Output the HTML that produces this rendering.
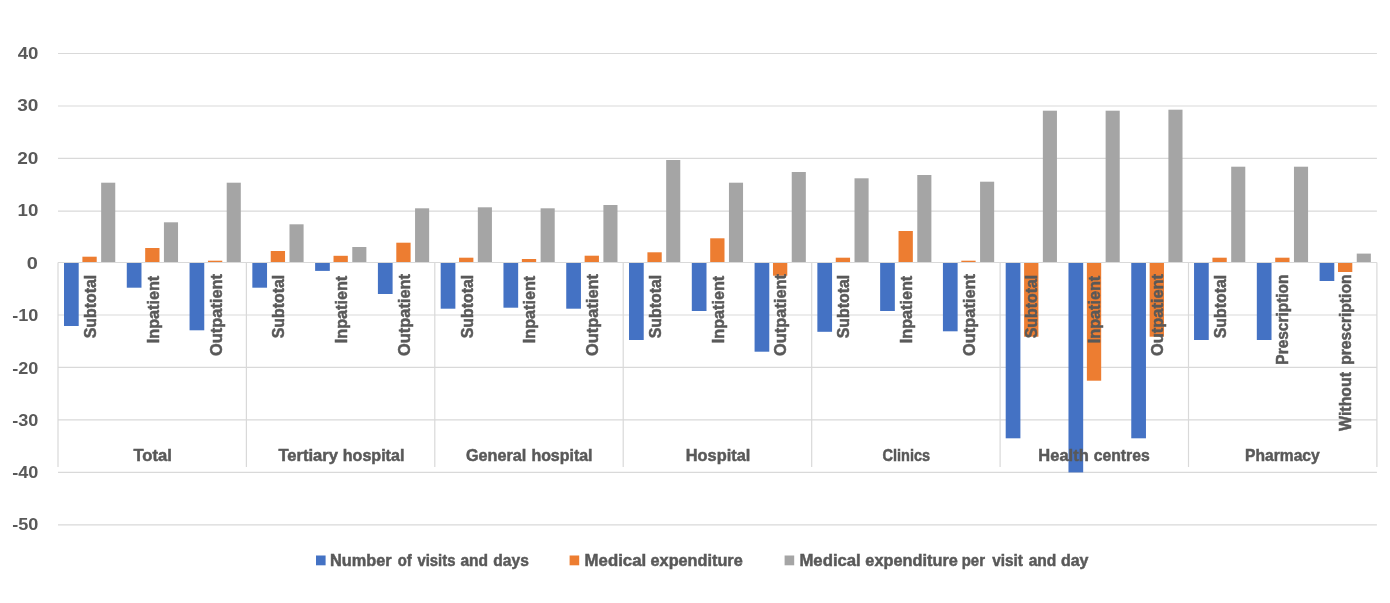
<!DOCTYPE html>
<html lang="en">
<head>
<meta charset="utf-8">
<title>Chart</title>
<style>
html,body{margin:0;padding:0;background:#fff;}
body{width:1390px;height:603px;overflow:hidden;}
svg{display:block;}
text{font-family:"Liberation Sans",sans-serif;font-weight:bold;font-size:16.5px;fill:#595959;stroke:#595959;stroke-width:0.5;}
text.ax{font-size:17px;stroke:none;}
</style>
</head>
<body>
<svg width="1390" height="603" viewBox="0 0 1390 603">
<rect width="1390" height="603" fill="#fff"/>
<g stroke="#D9D9D9" stroke-width="1.2" fill="none">
<line x1="58.0" y1="53.5" x2="1376.9" y2="53.5"/>
<line x1="58.0" y1="106.0" x2="1376.9" y2="106.0"/>
<line x1="58.0" y1="158.3" x2="1376.9" y2="158.3"/>
<line x1="58.0" y1="211.2" x2="1376.9" y2="211.2"/>
<line x1="58.0" y1="315.0" x2="1376.9" y2="315.0"/>
<line x1="58.0" y1="367.4" x2="1376.9" y2="367.4"/>
<line x1="58.0" y1="419.9" x2="1376.9" y2="419.9"/>
<line x1="58.0" y1="472.3" x2="1376.9" y2="472.3"/>
<line x1="58.0" y1="524.8" x2="1376.9" y2="524.8"/>
</g>
<g>
<rect x="64.00" y="262.50" width="14.70" height="63.50" fill="#4472C4"/>
<rect x="82.40" y="256.70" width="14.30" height="5.80" fill="#ED7D31"/>
<rect x="101.15" y="182.70" width="14.10" height="79.80" fill="#A5A5A5"/>
<rect x="126.78" y="262.50" width="14.70" height="25.20" fill="#4472C4"/>
<rect x="145.18" y="248.00" width="14.30" height="14.50" fill="#ED7D31"/>
<rect x="163.93" y="222.30" width="14.10" height="40.20" fill="#A5A5A5"/>
<rect x="189.56" y="262.50" width="14.70" height="67.80" fill="#4472C4"/>
<rect x="207.96" y="260.70" width="14.30" height="1.80" fill="#ED7D31"/>
<rect x="226.71" y="182.70" width="14.10" height="79.80" fill="#A5A5A5"/>
<rect x="252.34" y="262.50" width="14.70" height="25.20" fill="#4472C4"/>
<rect x="270.74" y="251.00" width="14.30" height="11.50" fill="#ED7D31"/>
<rect x="289.49" y="224.30" width="14.10" height="38.20" fill="#A5A5A5"/>
<rect x="315.12" y="262.50" width="14.70" height="8.40" fill="#4472C4"/>
<rect x="333.52" y="255.80" width="14.30" height="6.70" fill="#ED7D31"/>
<rect x="352.27" y="247.00" width="14.10" height="15.50" fill="#A5A5A5"/>
<rect x="377.90" y="262.50" width="14.70" height="31.50" fill="#4472C4"/>
<rect x="396.30" y="242.70" width="14.30" height="19.80" fill="#ED7D31"/>
<rect x="415.05" y="208.30" width="14.10" height="54.20" fill="#A5A5A5"/>
<rect x="440.68" y="262.50" width="14.70" height="46.20" fill="#4472C4"/>
<rect x="459.08" y="257.70" width="14.30" height="4.80" fill="#ED7D31"/>
<rect x="477.83" y="207.30" width="14.10" height="55.20" fill="#A5A5A5"/>
<rect x="503.46" y="262.50" width="14.70" height="45.20" fill="#4472C4"/>
<rect x="521.86" y="259.00" width="14.30" height="3.50" fill="#ED7D31"/>
<rect x="540.61" y="208.30" width="14.10" height="54.20" fill="#A5A5A5"/>
<rect x="566.24" y="262.50" width="14.70" height="46.20" fill="#4472C4"/>
<rect x="584.64" y="255.70" width="14.30" height="6.80" fill="#ED7D31"/>
<rect x="603.39" y="205.00" width="14.10" height="57.50" fill="#A5A5A5"/>
<rect x="629.02" y="262.50" width="14.70" height="77.50" fill="#4472C4"/>
<rect x="647.42" y="252.30" width="14.30" height="10.20" fill="#ED7D31"/>
<rect x="666.17" y="160.00" width="14.10" height="102.50" fill="#A5A5A5"/>
<rect x="691.80" y="262.50" width="14.70" height="48.50" fill="#4472C4"/>
<rect x="710.20" y="238.30" width="14.30" height="24.20" fill="#ED7D31"/>
<rect x="728.95" y="182.70" width="14.10" height="79.80" fill="#A5A5A5"/>
<rect x="754.58" y="262.50" width="14.70" height="89.20" fill="#4472C4"/>
<rect x="772.98" y="262.50" width="14.30" height="13.20" fill="#ED7D31"/>
<rect x="791.73" y="172.00" width="14.10" height="90.50" fill="#A5A5A5"/>
<rect x="817.36" y="262.50" width="14.70" height="69.30" fill="#4472C4"/>
<rect x="835.76" y="257.70" width="14.30" height="4.80" fill="#ED7D31"/>
<rect x="854.51" y="178.30" width="14.10" height="84.20" fill="#A5A5A5"/>
<rect x="880.14" y="262.50" width="14.70" height="48.50" fill="#4472C4"/>
<rect x="898.54" y="231.00" width="14.30" height="31.50" fill="#ED7D31"/>
<rect x="917.29" y="175.00" width="14.10" height="87.50" fill="#A5A5A5"/>
<rect x="942.92" y="262.50" width="14.70" height="68.80" fill="#4472C4"/>
<rect x="961.32" y="260.70" width="14.30" height="1.80" fill="#ED7D31"/>
<rect x="980.07" y="181.70" width="14.10" height="80.80" fill="#A5A5A5"/>
<rect x="1005.70" y="262.50" width="14.70" height="175.80" fill="#4472C4"/>
<rect x="1024.10" y="262.50" width="14.30" height="74.20" fill="#ED7D31"/>
<rect x="1042.85" y="110.70" width="14.10" height="151.80" fill="#A5A5A5"/>
<rect x="1068.48" y="262.50" width="14.70" height="209.90" fill="#4472C4"/>
<rect x="1086.88" y="262.50" width="14.30" height="118.20" fill="#ED7D31"/>
<rect x="1105.63" y="110.70" width="14.10" height="151.80" fill="#A5A5A5"/>
<rect x="1131.26" y="262.50" width="14.70" height="175.80" fill="#4472C4"/>
<rect x="1149.66" y="262.50" width="14.30" height="74.20" fill="#ED7D31"/>
<rect x="1168.41" y="109.70" width="14.10" height="152.80" fill="#A5A5A5"/>
<rect x="1194.04" y="262.50" width="14.70" height="77.50" fill="#4472C4"/>
<rect x="1212.44" y="257.70" width="14.30" height="4.80" fill="#ED7D31"/>
<rect x="1231.19" y="166.70" width="14.10" height="95.80" fill="#A5A5A5"/>
<rect x="1256.82" y="262.50" width="14.70" height="77.50" fill="#4472C4"/>
<rect x="1275.22" y="257.70" width="14.30" height="4.80" fill="#ED7D31"/>
<rect x="1293.97" y="166.70" width="14.10" height="95.80" fill="#A5A5A5"/>
<rect x="1319.60" y="262.50" width="14.70" height="18.50" fill="#4472C4"/>
<rect x="1338.00" y="262.50" width="14.30" height="9.50" fill="#ED7D31"/>
<rect x="1356.75" y="253.60" width="14.10" height="8.90" fill="#A5A5A5"/>
</g>
<g stroke="#D9D9D9" stroke-width="1.2" fill="none">
<line x1="58.0" y1="262.5" x2="1376.9" y2="262.5"/>
<line x1="58.0" y1="262.5" x2="58.0" y2="467.0"/>
<line x1="246.4" y1="262.5" x2="246.4" y2="467.0"/>
<line x1="434.8" y1="262.5" x2="434.8" y2="467.0"/>
<line x1="623.2" y1="262.5" x2="623.2" y2="467.0"/>
<line x1="811.7" y1="262.5" x2="811.7" y2="467.0"/>
<line x1="1000.1" y1="262.5" x2="1000.1" y2="467.0"/>
<line x1="1188.5" y1="262.5" x2="1188.5" y2="467.0"/>
<line x1="1376.9" y1="262.5" x2="1376.9" y2="467.0"/>
</g>
<rect x="316.0" y="555.5" width="9.6" height="9.8" fill="#4472C4"/>
<rect x="569.6" y="555.5" width="9.6" height="9.8" fill="#ED7D31"/>
<rect x="784.6" y="555.5" width="9.6" height="9.8" fill="#A5A5A5"/>
<g>
<text class="ax" y="58.5"><tspan x="17.77" textLength="20.72" lengthAdjust="spacingAndGlyphs">40</tspan></text>
<text class="ax" y="110.8"><tspan x="17.21" textLength="21.20" lengthAdjust="spacingAndGlyphs">30</tspan></text>
<text class="ax" y="163.5"><tspan x="17.17" textLength="21.20" lengthAdjust="spacingAndGlyphs">20</tspan></text>
<text class="ax" y="216.2"><tspan x="17.58" textLength="20.80" lengthAdjust="spacingAndGlyphs">10</tspan></text>
<text class="ax" y="268.6"><tspan x="26.84" textLength="11.10" lengthAdjust="spacingAndGlyphs">0</tspan></text>
<text class="ax" y="321.2"><tspan x="12.21" textLength="26.13" lengthAdjust="spacingAndGlyphs">-10</tspan></text>
<text class="ax" y="373.5"><tspan x="12.21" textLength="26.13" lengthAdjust="spacingAndGlyphs">-20</tspan></text>
<text class="ax" y="426.2"><tspan x="12.21" textLength="26.13" lengthAdjust="spacingAndGlyphs">-30</tspan></text>
<text class="ax" y="477.5"><tspan x="12.21" textLength="26.13" lengthAdjust="spacingAndGlyphs">-40</tspan></text>
<text class="ax" y="529.7"><tspan x="12.21" textLength="26.13" lengthAdjust="spacingAndGlyphs">-50</tspan></text>
<text transform="translate(96.2,0) rotate(-90)" y="0"><tspan x="-338.30" textLength="63.45" lengthAdjust="spacingAndGlyphs">Subtotal</tspan></text>
<text transform="translate(158.9,0) rotate(-90)" y="0"><tspan x="-343.24" textLength="67.39" lengthAdjust="spacingAndGlyphs">Inpatient</tspan></text>
<text transform="translate(221.7,0) rotate(-90)" y="0"><tspan x="-356.10" textLength="82.17" lengthAdjust="spacingAndGlyphs">Outpatient</tspan></text>
<text transform="translate(284.4,0) rotate(-90)" y="0"><tspan x="-338.30" textLength="63.45" lengthAdjust="spacingAndGlyphs">Subtotal</tspan></text>
<text transform="translate(347.2,0) rotate(-90)" y="0"><tspan x="-343.24" textLength="67.39" lengthAdjust="spacingAndGlyphs">Inpatient</tspan></text>
<text transform="translate(409.9,0) rotate(-90)" y="0"><tspan x="-356.10" textLength="82.17" lengthAdjust="spacingAndGlyphs">Outpatient</tspan></text>
<text transform="translate(472.6,0) rotate(-90)" y="0"><tspan x="-338.30" textLength="63.45" lengthAdjust="spacingAndGlyphs">Subtotal</tspan></text>
<text transform="translate(535.4,0) rotate(-90)" y="0"><tspan x="-343.24" textLength="67.39" lengthAdjust="spacingAndGlyphs">Inpatient</tspan></text>
<text transform="translate(598.1,0) rotate(-90)" y="0"><tspan x="-356.10" textLength="82.17" lengthAdjust="spacingAndGlyphs">Outpatient</tspan></text>
<text transform="translate(660.9,0) rotate(-90)" y="0"><tspan x="-338.30" textLength="63.45" lengthAdjust="spacingAndGlyphs">Subtotal</tspan></text>
<text transform="translate(723.6,0) rotate(-90)" y="0"><tspan x="-343.24" textLength="67.39" lengthAdjust="spacingAndGlyphs">Inpatient</tspan></text>
<text transform="translate(786.3,0) rotate(-90)" y="0"><tspan x="-356.10" textLength="82.17" lengthAdjust="spacingAndGlyphs">Outpatient</tspan></text>
<text transform="translate(849.1,0) rotate(-90)" y="0"><tspan x="-338.30" textLength="63.45" lengthAdjust="spacingAndGlyphs">Subtotal</tspan></text>
<text transform="translate(911.8,0) rotate(-90)" y="0"><tspan x="-343.24" textLength="67.39" lengthAdjust="spacingAndGlyphs">Inpatient</tspan></text>
<text transform="translate(974.6,0) rotate(-90)" y="0"><tspan x="-356.10" textLength="82.17" lengthAdjust="spacingAndGlyphs">Outpatient</tspan></text>
<text transform="translate(1037.3,0) rotate(-90)" y="0"><tspan x="-338.30" textLength="63.45" lengthAdjust="spacingAndGlyphs">Subtotal</tspan></text>
<text transform="translate(1100.0,0) rotate(-90)" y="0"><tspan x="-343.24" textLength="67.39" lengthAdjust="spacingAndGlyphs">Inpatient</tspan></text>
<text transform="translate(1162.8,0) rotate(-90)" y="0"><tspan x="-356.10" textLength="82.17" lengthAdjust="spacingAndGlyphs">Outpatient</tspan></text>
<text transform="translate(1225.5,0) rotate(-90)" y="0"><tspan x="-338.30" textLength="63.45" lengthAdjust="spacingAndGlyphs">Subtotal</tspan></text>
<text transform="translate(1288.3,0) rotate(-90)" y="0"><tspan x="-364.63" textLength="90.10" lengthAdjust="spacingAndGlyphs">Prescription</tspan></text>
<text transform="translate(1351.0,0) rotate(-90)" y="0"><tspan x="-431.04" textLength="59.21" lengthAdjust="spacingAndGlyphs">Without</tspan> <tspan x="-364.84" textLength="90.34" lengthAdjust="spacingAndGlyphs">prescription</tspan></text>
<text y="461.2"><tspan x="133.45" textLength="38.39" lengthAdjust="spacingAndGlyphs">Total</tspan></text>
<text y="461.2"><tspan x="278.44" textLength="59.58" lengthAdjust="spacingAndGlyphs">Tertiary</tspan> <tspan x="342.74" textLength="61.65" lengthAdjust="spacingAndGlyphs">hospital</tspan></text>
<text y="461.2"><tspan x="465.94" textLength="60.44" lengthAdjust="spacingAndGlyphs">General</tspan> <tspan x="531.40" textLength="61.14" lengthAdjust="spacingAndGlyphs">hospital</tspan></text>
<text y="461.2"><tspan x="685.81" textLength="64.46" lengthAdjust="spacingAndGlyphs">Hospital</tspan></text>
<text y="461.2"><tspan x="882.47" textLength="47.59" lengthAdjust="spacingAndGlyphs">Clinics</tspan></text>
<text y="461.2"><tspan x="1038.36" textLength="50.36" lengthAdjust="spacingAndGlyphs">Health</tspan> <tspan x="1093.65" textLength="56.03" lengthAdjust="spacingAndGlyphs">centres</tspan></text>
<text y="461.2"><tspan x="1245.12" textLength="74.55" lengthAdjust="spacingAndGlyphs">Pharmacy</tspan></text>
<text y="566.0"><tspan x="330.02" textLength="61.70" lengthAdjust="spacingAndGlyphs">Number</tspan> <tspan x="397.78" textLength="14.04" lengthAdjust="spacingAndGlyphs">of</tspan> <tspan x="417.48" textLength="37.96" lengthAdjust="spacingAndGlyphs">visits</tspan> <tspan x="460.45" textLength="27.65" lengthAdjust="spacingAndGlyphs">and</tspan> <tspan x="493.35" textLength="35.43" lengthAdjust="spacingAndGlyphs">days</tspan></text>
<text y="566.0"><tspan x="584.58" textLength="61.55" lengthAdjust="spacingAndGlyphs">Medical</tspan> <tspan x="650.56" textLength="92.21" lengthAdjust="spacingAndGlyphs">expenditure</tspan></text>
<text y="566.0"><tspan x="799.44" textLength="61.34" lengthAdjust="spacingAndGlyphs">Medical</tspan> <tspan x="865.37" textLength="92.46" lengthAdjust="spacingAndGlyphs">expenditure</tspan> <tspan x="961.74" textLength="23.24" lengthAdjust="spacingAndGlyphs">per</tspan> <tspan x="992.26" textLength="30.73" lengthAdjust="spacingAndGlyphs">visit</tspan> <tspan x="1028.71" textLength="27.69" lengthAdjust="spacingAndGlyphs">and</tspan> <tspan x="1060.94" textLength="27.55" lengthAdjust="spacingAndGlyphs">day</tspan></text>
</g>
</svg>
</body>
</html>
